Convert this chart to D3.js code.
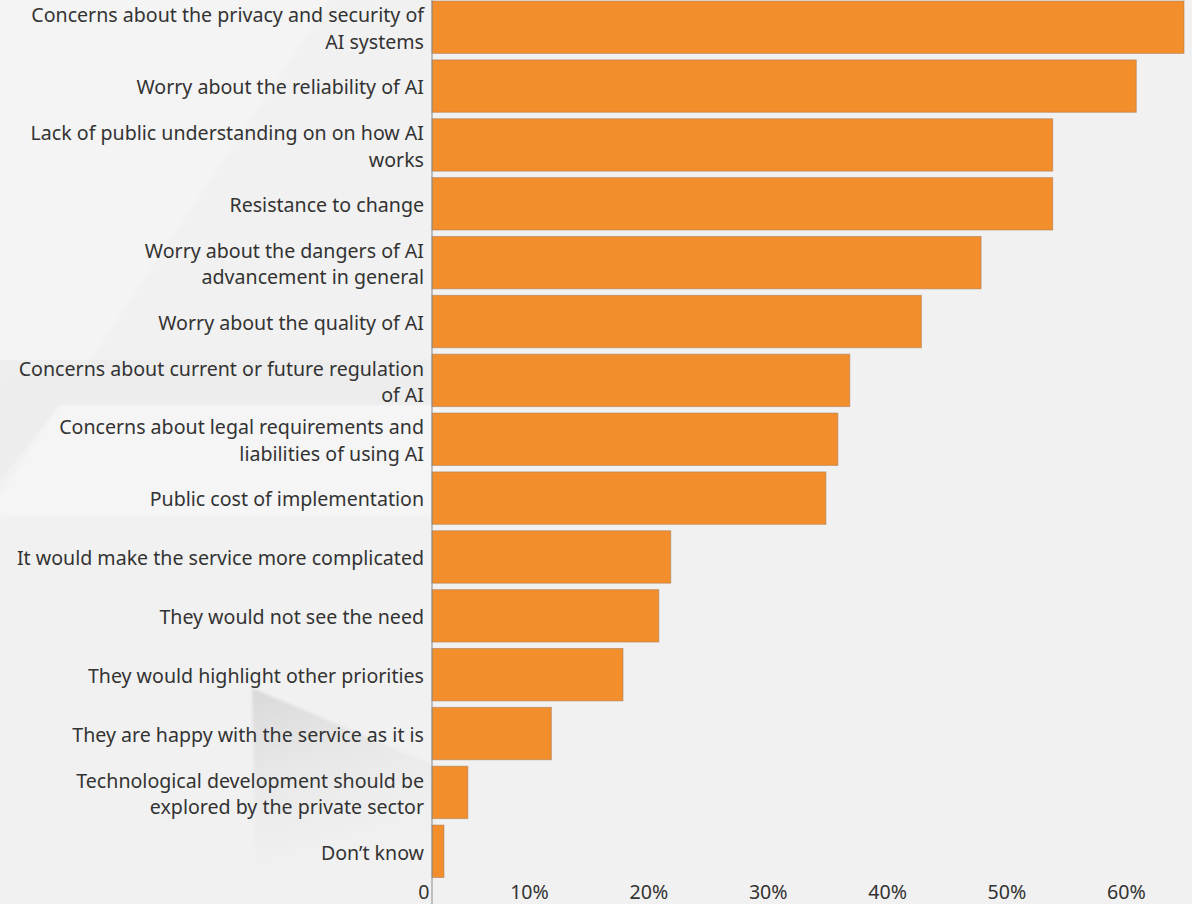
<!DOCTYPE html>
<html>
<head>
<meta charset="utf-8">
<script src="https://cdn.jsdelivr.net/npm/d3@7"></script>
<style>
  html, body { margin: 0; padding: 0; background: #f1f1f1; }
  svg { display: block; }
  text { font-family: "Noto Sans", "Open Sans", sans-serif; fill: #333; }
</style>
</head>
<body>
<svg id="chart" width="1192" height="904"></svg>
<script>
// Reasons given for resistance to AI in public services (share of respondents, %)
const categories = [
  "Concerns about the privacy and security of AI systems",
  "Worry about the reliability of AI",
  "Lack of public understanding on on how AI works",
  "Resistance to change",
  "Worry about the dangers of AI advancement in general",
  "Worry about the quality of AI",
  "Concerns about current or future regulation of AI",
  "Concerns about legal requirements and liabilities of using AI",
  "Public cost of implementation",
  "It would make the service more complicated",
  "They would not see the need",
  "They would highlight other priorities",
  "They are happy with the service as it is",
  "Technological development should be explored by the private sector",
  "Don\u2019t know"
];
const values = [63, 59, 52, 52, 46, 41, 35, 34, 33, 20, 19, 16, 10, 3, 1];
const tickValues = [0, 10, 20, 30, 40, 50, 60];
const tickLabels = ["0", "10%", "20%", "30%", "40%", "50%", "60%"];

const W = 1192, H = 904;
const svg = d3.select("#chart");

// soft background shapes
const defs = svg.append("defs");
const shade = defs.append("linearGradient").attr("id", "shade")
  .attr("x1", "0").attr("y1", "0").attr("x2", "0.3").attr("y2", "1");
shade.append("stop").attr("offset", "0").attr("stop-color", "#d6d6d6").attr("stop-opacity", 0.9);
shade.append("stop").attr("offset", "1").attr("stop-color", "#e8e8e8").attr("stop-opacity", 0);
defs.append("filter").attr("id", "soft")
  .append("feGaussianBlur").attr("stdDeviation", 1.5);

const bg = svg.append("g");
bg.append("rect").attr("width", W).attr("height", H).attr("fill", "#f1f1f1");
bg.append("polygon")
  .attr("points", "0,0 330,0 90,360 0,380")
  .attr("fill", "#f4f4f4");
bg.append("polygon")
  .attr("points", "0,360 440,360 440,405 60,405 0,480")
  .attr("fill", "#ebebeb").attr("opacity", 0.7);
bg.append("polygon")
  .attr("points", "60,405 440,405 440,515 0,515 0,495")
  .attr("fill", "#f5f5f5").attr("filter", "url(#soft)");
bg.append("polygon")
  .attr("points", "252,688 440,768 440,840 256,880")
  .attr("fill", "url(#shade)").attr("filter", "url(#soft)");

const x = d3.scaleLinear().domain([0, 63]).range([432, 1184]);
const y = d3.scaleBand()
  .domain(categories)
  .range([-2.2, 880.7])
  .paddingInner(0.11)
  .paddingOuter(0.055);

// bars
svg.append("g").selectAll("rect")
  .data(categories)
  .join("rect")
  .attr("x", x(0))
  .attr("y", d => y(d))
  .attr("width", (d, i) => x(values[i]) - x(0))
  .attr("height", y.bandwidth())
  .attr("fill", "#f28e2c")
  .attr("stroke", "#a87a55")
  .attr("stroke-opacity", 0.55)
  .attr("stroke-width", 1);

// category labels, wrapped to the space left of the axis
const maxW = 408, lineH = 26.5, fs = 19.6;
const labels = svg.append("g").attr("font-size", fs).attr("text-anchor", "end");
categories.forEach(cat => {
  const t = labels.append("text").attr("x", 424);
  const words = cat.split(" ");
  const lines = [];
  let line = [];
  const probe = t.append("tspan");
  words.forEach(w => {
    const trial = line.concat([w]).join(" ");
    probe.text(trial);
    if (probe.node().getComputedTextLength() > maxW && line.length) {
      lines.push(line.join(" "));
      line = [w];
    } else {
      line.push(w);
    }
  });
  lines.push(line.join(" "));
  probe.remove();
  const cy = y(cat) + y.bandwidth() / 2 + 1.5;
  const top = cy - (lines.length - 1) * lineH / 2;
  lines.forEach((ln, i) => {
    t.append("tspan")
      .attr("x", 424)
      .attr("y", top + i * lineH)
      .attr("dy", "0.35em")
      .text(ln);
  });
});

// x axis: labels sit to the left of each tick position
const axis = d3.axisBottom(x)
  .tickValues(tickValues)
  .tickFormat((d, i) => tickLabels[i])
  .tickSize(0)
  .tickPadding(0);
const gx = svg.append("g").attr("transform", "translate(0,881)").call(axis);
gx.select(".domain").remove();
gx.selectAll("text")
  .attr("font-family", "\"Noto Sans\", \"Open Sans\", sans-serif")
  .attr("font-size", fs)
  .attr("fill", "#333")
  .attr("text-anchor", "end")
  .attr("dx", -3)
  .attr("dy", "0.8em")
  .attr("y", 2);

// vertical baseline at zero
svg.append("line")
  .attr("x1", x(0)).attr("x2", x(0))
  .attr("y1", 0).attr("y2", H)
  .attr("stroke", "#8a8a8a").attr("stroke-width", 1);
</script>
</body>
</html>
